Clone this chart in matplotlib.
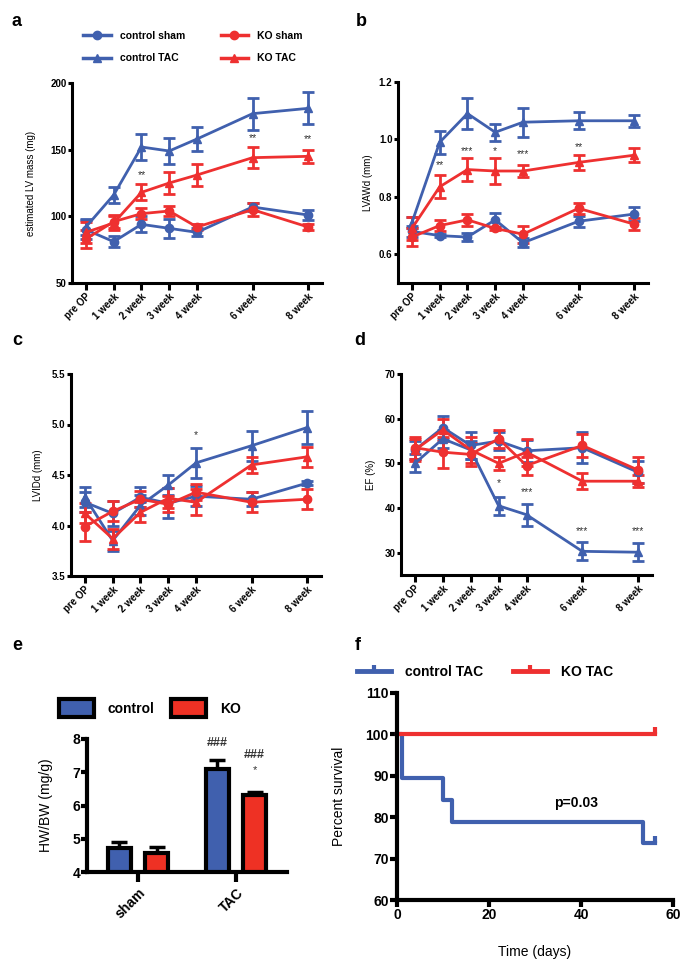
import matplotlib
matplotlib.use('Agg')
import matplotlib.pyplot as plt
from matplotlib.lines import Line2D
import numpy as np

plt.rcParams['font.family'] = ['Liberation Sans', 'DejaVu Sans']
plt.rcParams['font.weight'] = 'bold'

BLUE = '#4060AE'
RED = '#EE3030'

weeks = [0, 1, 2, 3, 4, 6, 8]
week_labels = ['pre OP', '1 week', '2 week', '3 week', '4 week', '6 week', '8 week']
series_names = ['control sham', 'control TAC', 'KO sham', 'KO TAC']

# panel a: estimated LV mass (mg)
a_ctrl_sham = [90, 81, 94, 91, 88, 107, 101]
a_ctrl_sham_err = [7, 4, 6, 7, 3, 3, 4]
a_ko_sham = [83, 96, 102, 104, 92, 105, 92]
a_ko_sham_err = [7, 5, 4, 4, 2, 5, 2]
a_ctrl_tac = [92, 116, 152, 149, 158, 177, 181]
a_ctrl_tac_err = [6, 6, 10, 10, 9, 12, 12]
a_ko_tac = [88, 95, 118, 125, 131, 144, 145]
a_ko_tac_err = [8, 5, 6, 8, 8, 8, 5]
a_stars = [(2, 131, '**'), (6, 159, '**'), (8, 158, '**')]

# panel b: LVAWd (mm)
b_ctrl_sham = [0.68, 0.665, 0.66, 0.72, 0.64, 0.715, 0.74]
b_ctrl_sham_err = [0.02, 0.005, 0.015, 0.025, 0.015, 0.02, 0.025]
b_ko_sham = [0.66, 0.70, 0.72, 0.69, 0.67, 0.76, 0.705]
b_ko_sham_err = [0.03, 0.02, 0.02, 0.005, 0.03, 0.02, 0.02]
b_ctrl_tac = [0.71, 0.99, 1.09, 1.025, 1.06, 1.065, 1.065]
b_ctrl_tac_err = [0.02, 0.04, 0.055, 0.03, 0.05, 0.03, 0.02]
b_ko_tac = [0.69, 0.835, 0.895, 0.89, 0.89, 0.92, 0.945]
b_ko_tac_err = [0.04, 0.04, 0.04, 0.045, 0.02, 0.025, 0.025]
b_stars = [(1, 0.912, '**'), (2, 0.96, '***'), (3, 0.96, '*'), (4, 0.95, '***'), (6, 0.975, '**')]

# panel c: LVIDd (mm)
c_ctrl_sham = [4.23, 4.12, 4.28, 4.22, 4.29, 4.26, 4.42]
c_ctrl_sham_err = [0.1, 0.12, 0.1, 0.15, 0.1, 0.07, 0.02]
c_ko_sham = [3.99, 4.14, 4.26, 4.21, 4.33, 4.23, 4.26]
c_ko_sham_err = [0.14, 0.1, 0.08, 0.08, 0.08, 0.1, 0.1]
c_ctrl_tac = [4.28, 3.85, 4.2, 4.4, 4.62, 4.79, 4.97]
c_ctrl_tac_err = [0.1, 0.1, 0.1, 0.1, 0.15, 0.15, 0.16]
c_ko_tac = [4.12, 3.87, 4.13, 4.27, 4.23, 4.6, 4.68]
c_ko_tac_err = [0.1, 0.1, 0.1, 0.1, 0.13, 0.08, 0.1]
c_stars = [(4, 4.9, '*')]

# panel d: EF (%)
d_ctrl_sham = [53, 58, 54, 55, 52.8, 53.5, 48]
d_ctrl_sham_err = [2, 2.5, 3, 2, 2.5, 3.5, 2.5]
d_ko_sham = [53.5, 52.5, 52, 55.5, 49.5, 54, 48.5]
d_ko_sham_err = [2.5, 3.5, 2.5, 2, 2, 2.5, 3]
d_ctrl_tac = [50, 55.5, 53, 40.5, 38.5, 30.3, 30.1]
d_ctrl_tac_err = [2, 2, 2, 2, 2.5, 2, 2]
d_ko_tac = [53, 57.5, 53, 50, 52.5, 46, 46]
d_ko_tac_err = [2.5, 2.5, 3, 1.5, 3, 1.8, 1.3]
d_stars = [(3, 45.5, '*'), (4, 43.5, '***'), (6, 34.8, '***'), (8, 34.8, '***')]

# panel e: HW/BW
e_groups = ['sham', 'TAC']
e_control = [4.72, 7.1]
e_control_err = [0.18, 0.28]
e_ko = [4.57, 6.33]
e_ko_err = [0.17, 0.07]

# panel f: survival
f_ctrl_t = [0, 1, 10, 12, 53.5, 56]
f_ctrl_s = [100, 89.5, 84.2, 78.9, 73.7, 73.7]
f_ko_t = [0, 56]
f_ko_s = [100, 100]

W, H = 697, 973
fig = plt.figure(figsize=(W / 100, H / 100), dpi=100)

MARKERS = ['o', '^', 'o', '^']
COLORS = [BLUE, BLUE, RED, RED]


def rect(x0, y0, x1, y1):
    return [x0 / W, 1 - y1 / H, (x1 - x0) / W, (y1 - y0) / H]


def style_axes(ax, lw=2.2, fs=7):
    for s in ['top', 'right']:
        ax.spines[s].set_visible(False)
    for s in ['left', 'bottom']:
        ax.spines[s].set_linewidth(lw)
    ax.tick_params(axis='both', width=lw, labelsize=fs, pad=1)


def line_panel(ax, data, ylim, yticks, ylabel, stars, labelpad):
    for (vals, errs), m, c, name in zip(data, MARKERS, COLORS, series_names):
        ax.errorbar(weeks, vals, yerr=errs, color=c, marker=m, ms=6, lw=2,
                    elinewidth=2, capsize=4, capthick=2, label=name, clip_on=False)
    for x, y, s in stars:
        ax.text(x, y, s, ha='center', va='center', fontsize=7.5, color='#333333',
                fontweight='normal')
    ax.set_xlim(-0.5, 8.5)
    ax.set_ylim(*ylim)
    ax.set_yticks(yticks)
    ax.set_xticks(weeks)
    ax.set_xticklabels(week_labels, rotation=45, ha='right', rotation_mode='anchor')
    ax.set_ylabel(ylabel, fontsize=7, labelpad=labelpad)
    style_axes(ax)
    ax.tick_params(axis='x', length=5)
    ax.tick_params(axis='y', length=3)


ax_a = fig.add_axes(rect(72, 83, 322, 283))
line_panel(ax_a, [(a_ctrl_sham, a_ctrl_sham_err), (a_ctrl_tac, a_ctrl_tac_err),
                  (a_ko_sham, a_ko_sham_err), (a_ko_tac, a_ko_tac_err)],
           (50, 200), [50, 100, 150, 200], 'estimated LV mass (mg)', a_stars, 10)
a_handles = [Line2D([], [], color=c, marker=m, ms=6, lw=2.5) for m, c in zip(MARKERS, COLORS)]
ax_a.legend(a_handles, series_names, loc='center', bbox_to_anchor=(193 / W, 1 - 47 / H),
            bbox_transform=fig.transFigure, ncol=2, frameon=False, fontsize=7.5,
            handlelength=2.6, handletextpad=0.9, columnspacing=3.4, labelspacing=1.2)

ax_b = fig.add_axes(rect(398, 82, 648, 283))
line_panel(ax_b, [(b_ctrl_sham, b_ctrl_sham_err), (b_ctrl_tac, b_ctrl_tac_err),
                  (b_ko_sham, b_ko_sham_err), (b_ko_tac, b_ko_tac_err)],
           (0.5, 1.2), [0.6, 0.8, 1.0, 1.2], 'LVAWd (mm)', b_stars, 4)

ax_c = fig.add_axes(rect(71, 374, 321, 576))
line_panel(ax_c, [(c_ctrl_sham, c_ctrl_sham_err), (c_ctrl_tac, c_ctrl_tac_err),
                  (c_ko_sham, c_ko_sham_err), (c_ko_tac, c_ko_tac_err)],
           (3.5, 5.5), [3.5, 4.0, 4.5, 5.0, 5.5], 'LVIDd (mm)', c_stars, 6)

ax_d = fig.add_axes(rect(401, 374, 652, 575))
line_panel(ax_d, [(d_ctrl_sham, d_ctrl_sham_err), (d_ctrl_tac, d_ctrl_tac_err),
                  (d_ko_sham, d_ko_sham_err), (d_ko_tac, d_ko_tac_err)],
           (25, 70), [30, 40, 50, 60, 70], 'EF (%)', d_stars, 6)

# panel e: bars
ax_e = fig.add_axes(rect(87, 739, 287, 872))
xg = np.arange(len(e_groups))
bw = 0.24
ax_e.bar(xg - 0.19, e_control, bw, color=BLUE, edgecolor='black', lw=3, label='control', zorder=2)
ax_e.bar(xg + 0.19, e_ko, bw, color='#EE3124', edgecolor='black', lw=3, label='KO', zorder=2)
ax_e.errorbar(xg - 0.19, e_control, yerr=[[0, 0], e_control_err], fmt='none', ecolor='black',
              elinewidth=2.5, capsize=6, capthick=2.5, zorder=1)
ax_e.errorbar(xg + 0.19, e_ko, yerr=[[0, 0], e_ko_err], fmt='none', ecolor='black',
              elinewidth=2.5, capsize=6, capthick=2.5, zorder=1)
ax_e.text(1 - 0.19, 7.87, '###', ha='center', va='center', fontsize=9, color='#333333')
ax_e.text(1 + 0.19, 7.52, '###', ha='center', va='center', fontsize=9, color='#333333')
ax_e.text(1 + 0.19, 7.07, '*', ha='center', va='center', fontsize=8, color='#333333', fontweight='normal')
ax_e.set_xlim(-0.52, 1.52)
ax_e.set_ylim(4, 8)
ax_e.set_yticks([4, 5, 6, 7, 8])
ax_e.set_xticks(xg)
ax_e.set_xticklabels(e_groups, rotation=45, ha='right', rotation_mode='anchor')
ax_e.set_ylabel('HW/BW (mg/g)', fontsize=10, fontweight='normal', labelpad=14)
style_axes(ax_e, lw=3, fs=10)
ax_e.tick_params(axis='x', length=7, pad=3)
ax_e.tick_params(axis='y', length=4)
ax_e.legend(loc='center', bbox_to_anchor=(150 / W, 1 - 708 / H), bbox_transform=fig.transFigure,
            ncol=2, frameon=False, fontsize=10, handlelength=2.5, handleheight=1.6,
            handletextpad=1.0, columnspacing=1.2)

# panel f: survival
ax_f = fig.add_axes(rect(397, 693, 673, 900))
ax_f.step(f_ctrl_t, f_ctrl_s, where='post', color=BLUE, lw=3, clip_on=False)
ax_f.step(f_ko_t, f_ko_s, where='post', color=RED, lw=3, clip_on=False)
ax_f.plot(f_ctrl_t[-1:], f_ctrl_s[-1:], ls='none', marker=2, ms=5, mew=3, color=BLUE)
ax_f.plot(f_ko_t[-1:], f_ko_s[-1:], ls='none', marker=2, ms=5, mew=3, color=RED)
ax_f.text(39, 83.4, 'p=0.03', ha='center', va='center', fontsize=10)
ax_f.set_xlim(0, 60)
ax_f.set_ylim(60, 110)
ax_f.set_xticks([0, 20, 40, 60])
ax_f.set_yticks([60, 70, 80, 90, 100, 110])
ax_f.set_xlabel('Time (days)', fontsize=10, fontweight='normal', labelpad=16)
ax_f.set_ylabel('Percent survival', fontsize=10, fontweight='normal', labelpad=14)
style_axes(ax_f, lw=3, fs=10)
ax_f.tick_params(axis='both', length=5)
f_handles = [Line2D([], [], color=c, lw=3.5, marker=2, ms=4, mew=3) for c in [BLUE, RED]]
ax_f.legend(f_handles, ['control TAC', 'KO TAC'], loc='center',
            bbox_to_anchor=(485 / W, 1 - 672 / H), bbox_transform=fig.transFigure,
            ncol=2, frameon=False, fontsize=10, handlelength=2.45, handletextpad=1.0,
            columnspacing=2.2)

for lab, x, y in [('a', 17, 22), ('b', 361, 22), ('c', 17, 340), ('d', 360, 340),
                  ('e', 17, 645), ('f', 358, 645)]:
    fig.text(x / W, 1 - y / H, lab, fontsize=13, fontweight='bold', ha='center', va='center')

fig.savefig('out.png', dpi=100)
